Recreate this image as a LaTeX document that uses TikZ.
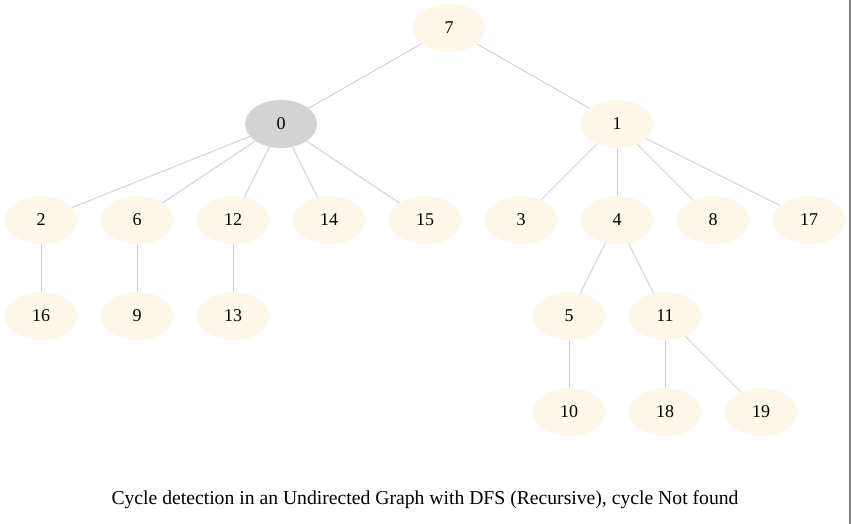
\documentclass[tikz,border=0pt]{standalone}
\usepackage{fontspec}
\setmainfont{Liberation Serif}
\usetikzlibrary{shapes.geometric}
\definecolor{nodefill}{HTML}{FDF8EA}
\definecolor{rootfill}{HTML}{D3D3D3}
\definecolor{edgecol}{HTML}{D3D3D3}
\definecolor{framecol}{HTML}{808080}
\begin{document}
\begin{tikzpicture}[x=0.75pt,y=-0.75pt,
  vert/.style={ellipse,fill=nodefill,draw=none,minimum width=54pt,minimum height=36pt,inner sep=0pt,font=\fontsize{13.5}{16}\selectfont},
  gvert/.style={vert,fill=rootfill},
  link/.style={draw=edgecol,line width=0.75pt}]
\useasboundingbox (0,0) rectangle (851,524);
\fill[white] (0,0) rectangle (851,524);
\draw[framecol,line width=1.5pt] (849.5,0) -- (849.5,524);
\node[vert] (n7) at (449,28) {7};
\node[gvert] (n0) at (281,124) {0};
\node[vert] (n1) at (617,124) {1};
\node[vert] (n2) at (41,220) {2};
\node[vert] (n6) at (137,220) {6};
\node[vert] (n12) at (233,220) {12};
\node[vert] (n14) at (329,220) {14};
\node[vert] (n15) at (425,220) {15};
\node[vert] (n3) at (521,220) {3};
\node[vert] (n4) at (617,220) {4};
\node[vert] (n8) at (713,220) {8};
\node[vert] (n17) at (809,220) {17};
\node[vert] (n16) at (41,316) {16};
\node[vert] (n9) at (137,316) {9};
\node[vert] (n13) at (233,316) {13};
\node[vert] (n5) at (569,316) {5};
\node[vert] (n11) at (665,316) {11};
\node[vert] (n10) at (569,412) {10};
\node[vert] (n18) at (665,412) {18};
\node[vert] (n19) at (761,412) {19};
\node[font=\fontsize{14.75}{17}\selectfont,inner sep=0pt] (cap) at (425,500) {Cycle detection in an Undirected Graph with DFS (Recursive), cycle Not found};
\foreach \a/\b in {n7/n0,n7/n1,n0/n2,n0/n6,n0/n12,n0/n14,n0/n15,n1/n3,n1/n4,n1/n8,n1/n17,n2/n16,n6/n9,n12/n13,n4/n5,n4/n11,n5/n10,n11/n18,n11/n19}
  \draw[link] (\a) -- (\b);
\end{tikzpicture}
\end{document}
